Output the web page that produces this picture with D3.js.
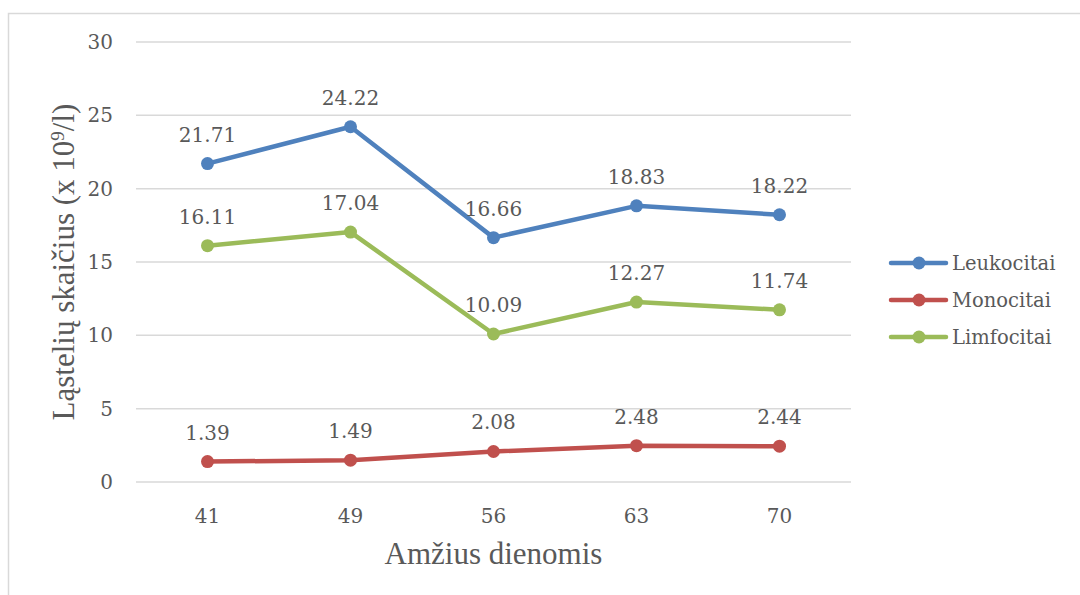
<!DOCTYPE html>
<html>
<head>
<meta charset="utf-8">
<script src="https://cdn.jsdelivr.net/npm/d3@7"></script>
<style>
  body { margin: 0; background: #fff; }
  svg text { fill: #595959; }
</style>
</head>
<body>
<div id="chart"></div>
<script>
// categories (age in days)
const days = ["41", "49", "56", "63", "70"];
// series values (x 10^9/l)
const leukocitai = [21.71, 24.22, 16.66, 18.83, 18.22];
const monocitai = [1.39, 1.49, 2.08, 2.48, 2.44];
const limfocitai = [16.11, 17.04, 10.09, 12.27, 11.74];
const yTicks = [0, 5, 10, 15, 20, 25, 30];

const series = [
  { name: "Leukocitai", values: leukocitai, color: "#4F81BD" },
  { name: "Monocitai", values: monocitai, color: "#C0504D" },
  { name: "Limfocitai", values: limfocitai, color: "#9BBB59" }
];

const W = 1080, H = 595;
const plot = { left: 136, right: 851, top: 42, bottom: 482 };
const labelFont = "'DejaVu Serif', serif";

const svg = d3.select("#chart").append("svg")
  .attr("width", W).attr("height", H);

// outer chart border (cropped at right/bottom)
svg.append("rect")
  .attr("x", 8.5).attr("y", 13.5)
  .attr("width", 1100).attr("height", 700)
  .attr("fill", "none").attr("stroke", "#D9D9D9").attr("stroke-width", 1.5);

const x = d3.scaleBand().domain(days).range([plot.left, plot.right]);
const y = d3.scaleLinear().domain([0, 30]).range([plot.bottom, plot.top]);
const cx = d => x(d) + x.bandwidth() / 2;

// gridlines
svg.append("g").selectAll("line")
  .data(yTicks).enter().append("line")
  .attr("x1", plot.left).attr("x2", plot.right)
  .attr("y1", d => y(d)).attr("y2", d => y(d))
  .attr("stroke", "#D9D9D9").attr("stroke-width", 1.5);

// y tick labels
svg.append("g").selectAll("text")
  .data(yTicks).enter().append("text")
  .attr("x", 113).attr("y", d => y(d))
  .attr("dy", "0.35em")
  .attr("text-anchor", "end")
  .style("font-family", labelFont)
  .style("font-size", "20px")
  .text(d => d);

// x tick labels
svg.append("g").selectAll("text")
  .data(days).enter().append("text")
  .attr("x", d => cx(d)).attr("y", 523)
  .attr("text-anchor", "middle")
  .style("font-family", labelFont)
  .style("font-size", "20px")
  .text(d => d);

// axis titles
svg.append("text")
  .attr("x", (plot.left + plot.right) / 2).attr("y", 564)
  .attr("text-anchor", "middle")
  .style("font-family", "'Liberation Serif', serif")
  .style("font-size", "31px")
  .text("Amžius dienomis");

svg.append("text")
  .attr("transform", `translate(74, ${(plot.top + plot.bottom) / 2}) rotate(-90)`)
  .attr("text-anchor", "middle")
  .style("font-family", "'Liberation Serif', serif")
  .style("font-size", "31px")
  .html("Ląstelių skaičius (x 10<tspan baseline-shift='super' font-size='19px'>9</tspan>/l)");

const line = d3.line()
  .x((v, i) => cx(days[i]))
  .y(v => y(v));

series.forEach(s => {
  const g = svg.append("g");
  g.append("path")
    .attr("d", line(s.values))
    .attr("fill", "none")
    .attr("stroke", s.color)
    .attr("stroke-width", 4.5)
    .attr("stroke-linejoin", "round")
    .attr("stroke-linecap", "round");
  g.selectAll("circle")
    .data(s.values).enter().append("circle")
    .attr("cx", (v, i) => cx(days[i]))
    .attr("cy", v => y(v))
    .attr("r", 6.5)
    .attr("fill", s.color);
  g.selectAll("text")
    .data(s.values).enter().append("text")
    .attr("x", (v, i) => cx(days[i]))
    .attr("y", v => y(v) - 22)
    .attr("text-anchor", "middle")
    .style("font-family", labelFont)
    .style("font-size", "20px")
    .text(v => v.toFixed(2));
});

// legend
const legend = svg.append("g").attr("transform", "translate(891, 263)");
series.forEach((s, i) => {
  const item = legend.append("g").attr("transform", `translate(0, ${i * 37})`);
  item.append("line")
    .attr("x1", 0).attr("x2", 55)
    .attr("stroke", s.color).attr("stroke-width", 4.5)
    .attr("stroke-linecap", "round");
  item.append("circle").attr("cx", 28).attr("r", 6.5).attr("fill", s.color);
  item.append("text")
    .attr("x", 61).attr("dy", "0.35em")
    .style("font-family", labelFont)
    .style("font-size", "19.5px")
    .text(s.name);
});
</script>
</body>
</html>
